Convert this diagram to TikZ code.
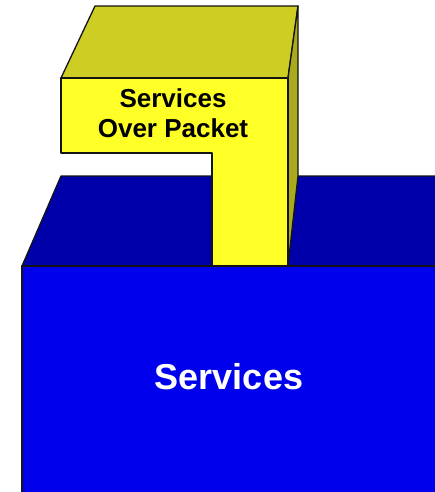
\documentclass[tikz,border=0pt]{standalone}
\usepackage{fontspec}
\setmainfont{Liberation Sans}
\definecolor{bluefront}{RGB}{0,0,236}
\definecolor{bluetop}{RGB}{0,0,170}
\definecolor{yelfront}{RGB}{255,255,40}
\definecolor{yeltop}{RGB}{205,205,35}
\definecolor{yelside}{RGB}{170,170,30}
\definecolor{edge}{RGB}{20,20,20}
\begin{document}
\begin{tikzpicture}[x=1pt,y=-1pt,
  face/.style={draw=edge,line width=1.3pt,line join=round},
  lbl/.style={font=\bfseries,align=center,inner sep=0pt}]
\useasboundingbox (0,0) rectangle (435,492);
% blue top face
\fill[bluetop] (22,266) -- (61,176) -- (436,176) -- (436,266) -- cycle;
\draw[edge,line width=1.3pt,line join=round] (22,266) -- (61,176) -- (436,176);
% yellow top face
\filldraw[face,fill=yeltop] (61,78) -- (95,6) -- (298,6) -- (288,78) -- cycle;
% yellow side face
\filldraw[face,fill=yelside] (288,78) -- (298,6) -- (298,176) -- (288,266) -- cycle;
% yellow front face (L shape)
\filldraw[face,fill=yelfront] (61,78) -- (288,78) -- (288,266) -- (212,266) -- (212,153) -- (61,153) -- cycle;
% blue front face
\filldraw[face,fill=bluefront] (22,266) -- (437,266) -- (437,494) -- (22,494) -- cycle;
% labels
\node[lbl,font=\fontsize{26}{30}\selectfont\bfseries,text=black] (sop) at (173,113) {Services\\Over Packet};
\node[lbl,font=\fontsize{36}{40}\selectfont\bfseries,text=white] (svc) at (229,377) {Services};
\end{tikzpicture}
\end{document}
